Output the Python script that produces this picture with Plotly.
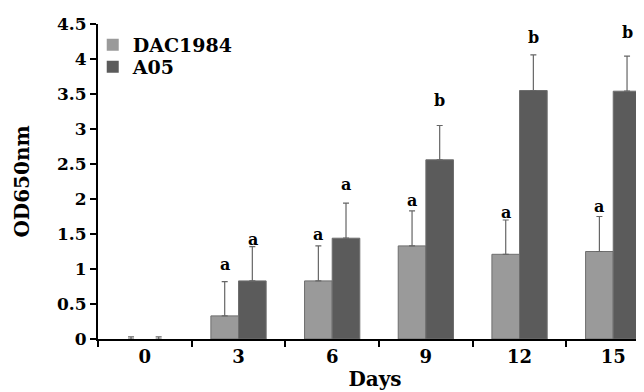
import plotly.graph_objects as go

days = ["0", "3", "6", "9", "12", "15"]
dac_values = [0.0, 0.33, 0.83, 1.33, 1.21, 1.25]
dac_errors = [0.03, 0.49, 0.50, 0.50, 0.49, 0.50]
a05_values = [0.0, 0.83, 1.44, 2.56, 3.55, 3.54]
a05_errors = [0.03, 0.49, 0.50, 0.49, 0.51, 0.50]
dac_letters = ["", "a", "a", "a", "a", "a"]
dac_letter_y = [None, 1.07, 1.50, 1.98, 1.81, 1.90]
a05_letters = ["", "a", "a", "b", "b", "b"]
a05_letter_y = [None, 1.42, 2.21, 3.41, 4.31, 4.38]

FONT = "DejaVu Serif"
BOLD = "bold"

def line_widths(vals):
    return [0 if v == 0 else 1 for v in vals]

fig = go.Figure()
fig.add_trace(go.Bar(
    name="<b>DAC1984</b>", x=days, y=dac_values, legend="legend",
    marker=dict(color="#9a9a9a", line=dict(color="#6e6e6e", width=line_widths(dac_values))),
    error_y=dict(type="data", array=dac_errors, symmetric=False,
                 arrayminus=[0]*len(days), color="#666666", thickness=1.2, width=3),
))
fig.add_trace(go.Bar(
    name="<b>A05</b>", x=days, y=a05_values, legend="legend2",
    marker=dict(color="#5b5b5b", line=dict(color="#6e6e6e", width=line_widths(a05_values))),
    error_y=dict(type="data", array=a05_errors, symmetric=False,
                 arrayminus=[0]*len(days), color="#666666", thickness=1.2, width=3),
))

annotations = []
for i, d in enumerate(days):
    if dac_letters[i]:
        annotations.append(dict(x=i, y=dac_letter_y[i], xref="x", yref="y",
                                text=dac_letters[i], showarrow=False, xshift=-14,
                                font=dict(family=FONT, size=16, color="black", weight=BOLD)))
    if a05_letters[i]:
        annotations.append(dict(x=i, y=a05_letter_y[i], xref="x", yref="y",
                                text=a05_letters[i], showarrow=False, xshift=14,
                                font=dict(family=FONT, size=16, color="black", weight=BOLD)))

legend_style = dict(xanchor="left", yanchor="middle",
                    font=dict(family=FONT, size=19, color="black", weight=BOLD),
                    bgcolor="rgba(0,0,0,0)", itemwidth=30)

fig.update_layout(
    width=644, height=392,
    margin=dict(l=90, r=0, t=16, b=61),
    paper_bgcolor="white", plot_bgcolor="white",
    barmode="group", bargap=0.41, bargroupgap=0,
    font=dict(family=FONT, size=15, color="black", weight=BOLD),
    showlegend=True,
    legend=dict(x=-0.0095, y=0.934, **legend_style),
    legend2=dict(x=-0.0095, y=0.864, **legend_style),
    annotations=annotations,
    xaxis=dict(
        type="category", range=[-0.5, 5.414],
        showline=True, linecolor="black", linewidth=2,
        ticks="outside", tickson="boundaries", ticklen=6, tickwidth=2, tickcolor="black",
        showgrid=False, zeroline=False,
        tickfont=dict(family=FONT, size=18, color="black", weight=BOLD),
        title=dict(text="Days", standoff=6,
                   font=dict(family=FONT, size=20, color="black", weight=BOLD)),
    ),
    yaxis=dict(
        range=[0, 4.5], dtick=0.5,
        showline=True, linecolor="black", linewidth=2,
        ticks="outside", ticklen=6, tickwidth=2, tickcolor="black",
        showgrid=False, zeroline=False,
        tickfont=dict(family=FONT, size=17, color="black", weight=BOLD),
        title=dict(text="OD650nm", standoff=22,
                   font=dict(family=FONT, size=20, color="black", weight=BOLD)),
    ),
)

fig.write_html("out.html")
